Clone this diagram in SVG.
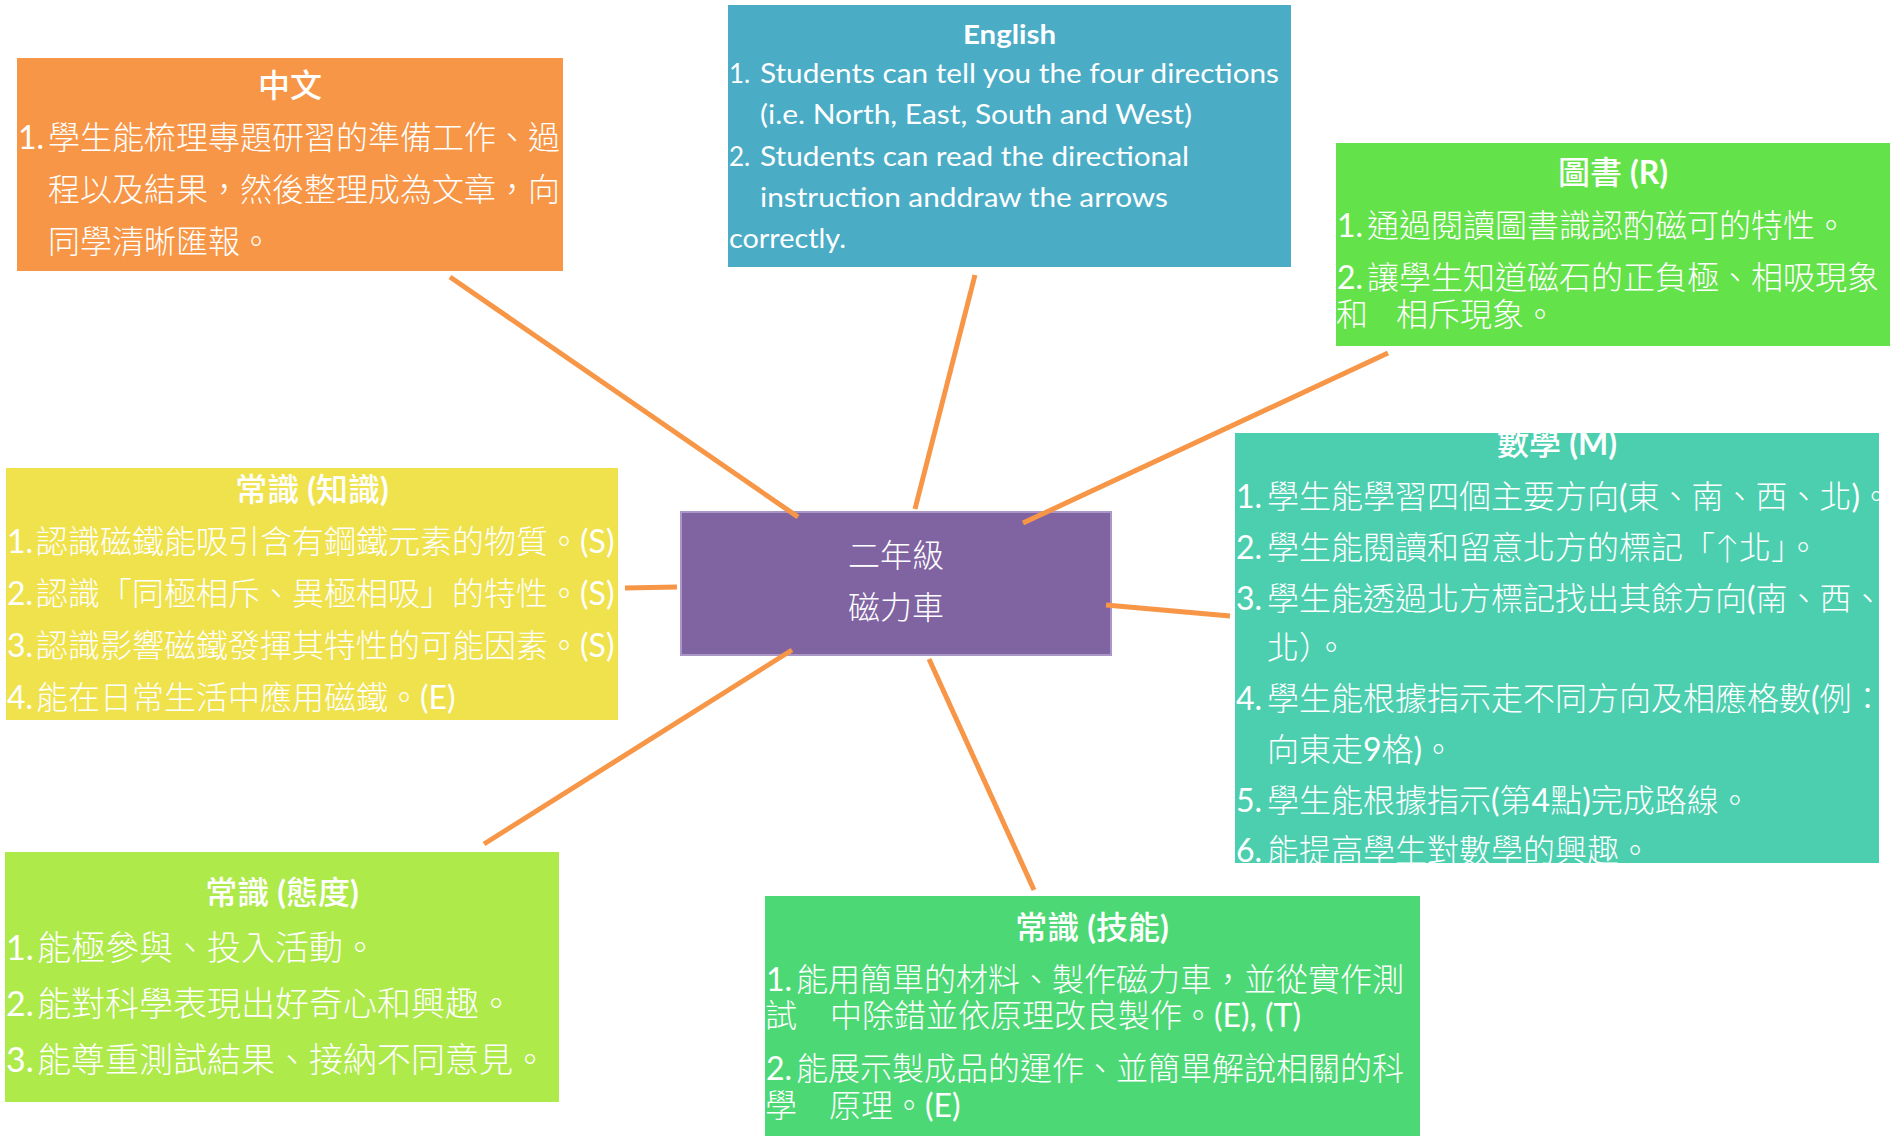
<svg xmlns="http://www.w3.org/2000/svg" width="1897" height="1136" viewBox="0 0 1897 1136">
<style>
.t{fill:#fff;font-family:Lato,"Noto Sans CJK TC",sans-serif;font-size:32px;font-weight:300}
.t34{font-size:34px}
.h{fill:#fff;font-family:Lato,"Noto Sans CJK TC",sans-serif;font-size:32px;font-weight:500;text-anchor:middle}
.en{fill:#fff;font-family:Lato,"Noto Sans",sans-serif;font-size:26px;font-weight:400}
.n{font-weight:400}
.b{font-weight:700}
.c{stroke:#F79646;stroke-width:5;fill:none}
</style>
<defs>
<clipPath id="mathClip"><rect x="1235" y="433" width="644" height="430"/></clipPath>
</defs>
<rect width="1897" height="1136" fill="#fff"/>

<g id="chinese">
<rect x="17" y="58" width="546" height="213" fill="#F79646"/>
<text class="h" x="290" y="97">中文</text>
<text class="t" y="149"><tspan class="n" x="18">1.</tspan><tspan x="48">學生能梳理專題研習的準備工作、過</tspan></text>
<text class="t" x="48" y="201">程以及結果，然後整理成為文章，向</text>
<text class="t" x="48" y="253">同學清晰匯報。</text>
</g>

<g id="english">
<rect x="728" y="5" width="563" height="262" fill="#4BACC6"/>
<text class="en b" x="1009.5" y="44" text-anchor="middle" textLength="93" lengthAdjust="spacingAndGlyphs">English</text>
<text class="en" y="83"><tspan x="729">1.</tspan><tspan x="760" textLength="519" lengthAdjust="spacingAndGlyphs">Students can tell you the four directions</tspan></text>
<text class="en" x="760" y="124" textLength="432" lengthAdjust="spacingAndGlyphs">(i.e. North, East, South and West)</text>
<text class="en" y="166"><tspan x="729">2.</tspan><tspan x="760" textLength="429" lengthAdjust="spacingAndGlyphs">Students can read the directional</tspan></text>
<text class="en" x="760" y="207" textLength="408" lengthAdjust="spacingAndGlyphs">instruction anddraw the arrows</text>
<text class="en" x="729" y="248" textLength="117" lengthAdjust="spacingAndGlyphs">correctly.</text>
</g>

<g id="library">
<rect x="1336" y="143" width="554" height="203" fill="#64E24A"/>
<text class="h" x="1613" y="184">圖書 <tspan class="b">(R)</tspan></text>
<text class="t" y="237"><tspan class="n" x="1337">1.</tspan><tspan x="1367">通過閱讀圖書識認酌磁可的特性。</tspan></text>
<text class="t" y="289"><tspan class="n" x="1337">2.</tspan><tspan x="1367">讓學生知道磁石的正負極、相吸現象</tspan></text>
<text class="t" y="326"><tspan x="1336">和</tspan><tspan x="1396">相斥現象。</tspan></text>
</g>

<g id="gs-knowledge">
<rect x="6" y="468" width="612" height="252" fill="#F0E24C"/>
<text class="h" x="312" y="501">常識 <tspan class="b">(</tspan>知識<tspan class="b">)</tspan></text>
<text class="t" y="553"><tspan class="n" x="7">1.</tspan><tspan x="36">認識磁鐵能吸引含有鋼鐵元素的物質。</tspan><tspan class="n">(S)</tspan></text>
<text class="t" y="605"><tspan class="n" x="7">2.</tspan><tspan x="36">認識「同極相斥、異極相吸」的特性。</tspan><tspan class="n">(S)</tspan></text>
<text class="t" y="657"><tspan class="n" x="7">3.</tspan><tspan x="36">認識影響磁鐵發揮其特性的可能因素。</tspan><tspan class="n">(S)</tspan></text>
<text class="t" y="709"><tspan class="n" x="7">4.</tspan><tspan x="36">能在日常生活中應用磁鐵。</tspan><tspan class="n">(E)</tspan></text>
</g>

<g id="math">
<rect x="1235" y="433" width="644" height="430" fill="#4CCFAF"/>
<g clip-path="url(#mathClip)">
<text class="h" x="1557" y="455">數學 <tspan class="b">(M)</tspan></text>
<text class="t" y="508"><tspan class="n" x="1236">1.</tspan><tspan x="1267">學生能學習四個主要方向</tspan><tspan class="n">(</tspan>東、南、西、北<tspan class="n">)</tspan>。</text>
<text class="t" y="559"><tspan class="n" x="1236">2.</tspan><tspan x="1267">學生能閱讀和留意北方的標記「↑北」。</tspan></text>
<text class="t" y="610"><tspan class="n" x="1236">3.</tspan><tspan x="1267">學生能透過北方標記找出其餘方向</tspan><tspan class="n">(</tspan>南、西、</text>
<text class="t" x="1267" y="659">北）。</text>
<text class="t" y="710"><tspan class="n" x="1236">4.</tspan><tspan x="1267">學生能根據指示走不同方向及相應格數</tspan><tspan class="n">(</tspan>例：</text>
<text class="t" x="1267" y="761">向東走<tspan class="n">9</tspan>格<tspan class="n">)</tspan>。</text>
<text class="t" y="812"><tspan class="n" x="1236">5.</tspan><tspan x="1267">學生能根據指示</tspan><tspan class="n">(</tspan>第<tspan class="n">4</tspan>點<tspan class="n">)</tspan>完成路線。</text>
<text class="t" y="862"><tspan class="n" x="1236">6.</tspan><tspan x="1267">能提高學生對數學的興趣。</tspan></text>
</g>
</g>

<g id="gs-attitude">
<rect x="5" y="852" width="554" height="250" fill="#AEEA4A"/>
<text class="h" x="282" y="904" font-size="34">常識 <tspan class="b">(</tspan>態度<tspan class="b">)</tspan></text>
<text class="t t34" y="960"><tspan class="n" x="6">1.</tspan><tspan x="37">能極參與、投入活動。</tspan></text>
<text class="t t34" y="1016"><tspan class="n" x="6">2.</tspan><tspan x="37">能對科學表現出好奇心和興趣。</tspan></text>
<text class="t t34" y="1072"><tspan class="n" x="6">3.</tspan><tspan x="37">能尊重測試結果、接納不同意見。</tspan></text>
</g>

<g id="gs-skills">
<rect x="765" y="896" width="655" height="240" fill="#4CD975"/>
<text class="h" x="1092" y="939">常識 <tspan class="b">(</tspan>技能<tspan class="b">)</tspan></text>
<text class="t" y="991"><tspan class="n" x="766">1.</tspan><tspan x="796">能用簡單的材料、製作磁力車，並從實作測</tspan></text>
<text class="t" y="1027"><tspan x="765">試</tspan><tspan x="830">中除錯並依原理改良製作。</tspan><tspan class="n">(E), (T)</tspan></text>
<text class="t" y="1080"><tspan class="n" x="766">2.</tspan><tspan x="796">能展示製成品的運作、並簡單解說相關的科</tspan></text>
<text class="t" y="1117"><tspan x="765">學</tspan><tspan x="829">原理。</tspan><tspan class="n">(E)</tspan></text>
</g>

<g id="center">
<rect x="681" y="512" width="430" height="143" fill="#8064A2" stroke="#A996C6" stroke-width="2"/>
<text class="t" x="896" y="567" text-anchor="middle" font-weight="400">二年級</text>
<text class="t" x="896" y="619" text-anchor="middle" font-weight="400">磁力車</text>
</g>

<g id="connectors">
<line class="c" x1="450" y1="277" x2="798" y2="517"/>
<line class="c" x1="975" y1="275" x2="915" y2="509"/>
<line class="c" x1="1388" y1="353" x2="1023" y2="523"/>
<line class="c" x1="625" y1="588" x2="677" y2="587"/>
<line class="c" x1="1106" y1="605" x2="1230" y2="616"/>
<line class="c" x1="484" y1="844" x2="792" y2="650"/>
<line class="c" x1="929" y1="659" x2="1034" y2="890"/>
</g>
</svg>
